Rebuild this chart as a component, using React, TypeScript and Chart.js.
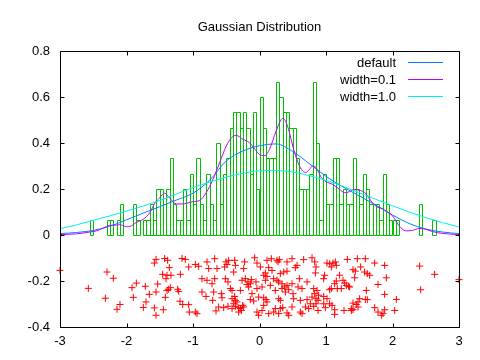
import { useEffect, useRef } from 'react';
import { Chart, registerables } from 'chart.js';

Chart.register(...registerables);

const FONT = '"Liberation Sans", Arial, sans-serif';

const titleText = 'Gaussian Distribution';
const xTickRange = [-3, 3];
const yTickRange = [-0.4, 0.8];

// histogram (bin width 0.05): bin centres and heights
const histCenters = [
  -2.525, -2.275, -2.225, -2.125, -2.075, -1.875, -1.825, -1.725, -1.675, -1.625, -1.575, -1.525,
  -1.475, -1.425, -1.375, -1.325, -1.275, -1.225, -1.175, -1.125, -1.075, -1.025, -0.975, -0.925,
  -0.875, -0.825, -0.775, -0.725, -0.675, -0.625, -0.575, -0.525, -0.475, -0.425, -0.375, -0.325,
  -0.275, -0.225, -0.175, -0.125, -0.075, -0.025,
  0.025, 0.075, 0.125, 0.175, 0.225, 0.275, 0.325, 0.375, 0.425, 0.475, 0.525, 0.575, 0.625, 0.675,
  0.725, 0.775, 0.825, 0.875, 0.925, 0.975, 1.025, 1.075, 1.125, 1.175, 1.225, 1.275, 1.325, 1.375,
  1.425, 1.475, 1.525, 1.575, 1.625, 1.675, 1.725, 1.775, 1.825, 1.875, 1.925, 1.975, 2.025, 2.075,
  2.425, 2.625,
];
const histHeights = [
  0.067, 0.067, 0.067, 0.067, 0.133, 0.133, 0.067, 0.067, 0.067, 0.133, 0.067, 0.2,
  0.2, 0.133, 0.2, 0.333, 0.133, 0.067, 0.067, 0.2, 0.067, 0.267, 0.133, 0.333,
  0.133, 0.067, 0.267, 0.133, 0.067, 0.4, 0.133, 0.267, 0.333, 0.467, 0.533, 0.533,
  0.467, 0.533, 0.467, 0.267, 0.533, 0.2,
  0.6, 0.467, 0.333, 0.333, 0.333, 0.667, 0.6, 0.533, 0.533, 0.467, 0.467, 0.333, 0.2, 0.2,
  0.2, 0.267, 0.667, 0.4, 0.067, 0.267, 0.133, 0.133, 0.333, 0.333, 0.133, 0.2, 0.133, 0.133,
  0.333, 0.2, 0.133, 0.267, 0.2, 0.133, 0.133, 0.133, 0.067, 0.267, 0.133, 0.067, 0.067, 0.067,
  0.133, 0.067,
];

// raw samples drawn below the axis: [value, vertical jitter]
const samplePoints: [number, number][] = [
  [-3.0, -0.154], [-2.574, -0.232], [-2.293, -0.161], [-2.198, -0.188], [-2.318, -0.275], [-2.098, -0.302],
  [-2.143, -0.323], [-1.917, -0.229], [-1.852, -0.209], [-1.897, -0.271], [-1.717, -0.223], [-1.657, -0.258],
  [-1.707, -0.291], [-1.747, -0.315], [-1.581, -0.317], [-1.556, -0.349], [-1.446, -0.325], [-1.531, -0.213],
  [-1.416, -0.271], [-1.581, -0.122], [-1.556, -0.106], [-1.426, -0.102], [-1.381, -0.110], [-1.356, -0.142],
  [-1.456, -0.171], [-1.391, -0.175], [-1.331, -0.175], [-1.371, -0.236], [-1.341, -0.229], [-1.391, -0.241],
  [-1.230, -0.236], [-1.215, -0.245], [-1.190, -0.171], [-1.165, -0.102], [-1.115, -0.106], [-1.065, -0.139],
  [-1.195, -0.288], [-1.155, -0.302], [-1.065, -0.303], [-1.055, -0.335], [-1.406, -0.190], [-1.556, -0.248],
  [-0.965, -0.128], [-0.789, -0.117], [-0.674, -0.103], [-0.504, -0.117], [-0.464, -0.110], [-0.373, -0.110],
  [-0.363, -0.132], [-0.223, -0.117], [-0.073, -0.099], [-0.038, -0.122], [0.113, -0.110], [0.178, -0.103],
  [0.263, -0.110], [0.298, -0.107], [0.414, -0.117], [0.489, -0.103], [0.564, -0.132], [0.664, -0.107],
  [0.790, -0.099], [0.830, -0.117], [0.850, -0.139], [1.015, -0.122], [-0.915, -0.136], [-0.639, -0.146],
  [-0.524, -0.139], [-0.238, -0.146], [0.013, -0.139], [0.138, -0.142], [0.539, -0.142], [-0.388, -0.161],
  [0.364, -0.161], [0.414, -0.157], [0.313, -0.168], [0.840, -0.165], [0.980, -0.175], [0.063, -0.175],
  [0.113, -0.180], [0.213, -0.190], [0.263, -0.197], [-0.865, -0.190], [-0.789, -0.197], [-0.674, -0.190],
  [-0.514, -0.190], [-0.474, -0.204], [-0.213, -0.190], [-0.173, -0.204], [-0.138, -0.212], [-0.263, -0.197],
  [-0.053, -0.204], [0.088, -0.197], [0.288, -0.204], [0.339, -0.212], [0.599, -0.190], [0.715, -0.204],
  [0.965, -0.190], [-0.865, -0.248], [-0.804, -0.267], [-0.689, -0.248], [-0.574, -0.255], [-0.564, -0.273],
  [-0.438, -0.233], [-0.413, -0.241], [-0.373, -0.267], [-0.288, -0.241], [-0.163, -0.226], [-0.038, -0.233],
  [0.038, -0.226], [0.163, -0.219], [0.238, -0.241], [0.339, -0.233], [0.389, -0.248], [0.439, -0.238],
  [0.504, -0.255], [0.579, -0.226], [0.815, -0.233], [0.865, -0.241], [0.790, -0.270], [0.850, -0.277],
  [0.890, -0.262], [0.965, -0.267], [1.015, -0.277], [-0.704, -0.284], [-0.413, -0.277], [-0.363, -0.284],
  [-0.138, -0.281], [-0.088, -0.287], [0.063, -0.273], [0.098, -0.281], [0.288, -0.277], [0.313, -0.284],
  [0.514, -0.277], [0.614, -0.284], [0.715, -0.281], [0.850, -0.299], [0.113, -0.291], [-0.965, -0.335],
  [-0.940, -0.342], [-0.654, -0.330], [-0.614, -0.313], [-0.539, -0.316], [-0.474, -0.310], [-0.413, -0.320],
  [-0.363, -0.310], [-0.313, -0.316], [-0.273, -0.328], [-0.238, -0.313], [-0.313, -0.335], [-0.038, -0.335],
  [-0.013, -0.349], [0.063, -0.306], [0.238, -0.320], [0.213, -0.335], [0.313, -0.320], [0.414, -0.339],
  [0.439, -0.349], [0.489, -0.313], [0.614, -0.335], [0.639, -0.342], [0.740, -0.320], [0.880, -0.328],
  [0.815, -0.310], [0.965, -0.299], [0.990, -0.316], [0.349, -0.316], [-0.188, -0.215], [-0.123, -0.194],
  [0.379, -0.226], [0.414, -0.219], [-0.388, -0.299], [-0.338, -0.291], [-0.288, -0.320], [-0.253, -0.306],
  [0.830, -0.255], [0.880, -0.284], [-0.489, -0.128], [0.279, -0.117], [0.088, -0.165], [0.188, -0.154],
  [0.489, -0.212], [-0.764, -0.146], [-0.714, -0.212], [0.639, -0.233], [0.038, -0.328], [0.138, -0.342],
  [0.288, -0.342], [-0.113, -0.255], [-0.013, -0.270], [0.690, -0.313], [0.765, -0.299],
  [1.055, -0.125], [1.105, -0.122], [1.140, -0.117], [1.155, -0.132], [1.321, -0.106], [1.471, -0.103],
  [1.591, -0.103], [1.732, -0.122], [1.882, -0.132], [1.406, -0.151], [1.441, -0.157], [1.521, -0.139],
  [1.581, -0.161], [1.621, -0.168], [1.657, -0.175], [1.205, -0.175], [1.431, -0.186], [1.155, -0.200],
  [1.256, -0.197], [1.281, -0.209], [1.306, -0.219], [1.341, -0.223], [1.782, -0.215], [1.907, -0.186],
  [1.055, -0.238], [1.080, -0.233], [1.170, -0.233], [1.606, -0.241], [1.882, -0.258], [1.506, -0.277],
  [1.591, -0.280], [1.621, -0.281], [2.058, -0.280], [1.055, -0.299], [1.090, -0.306], [1.406, -0.296],
  [1.456, -0.302], [1.481, -0.313], [1.130, -0.325], [1.271, -0.328], [1.381, -0.328], [1.406, -0.325],
  [1.732, -0.316], [1.782, -0.335], [1.857, -0.342], [1.882, -0.325], [2.033, -0.328], [1.130, -0.345],
  [1.832, -0.349], [2.408, -0.135], [2.634, -0.171], [2.423, -0.238], [3.0, -0.194], [1.080, -0.139],
  [1.130, -0.212], [1.356, -0.226], [1.230, -0.233], [1.481, -0.291], [1.381, -0.320],
];

// kernel density estimates: [x, density]
const kdeDefault: [number, number][] = [
  [-3, 0.006], [-2.75, 0.011], [-2.5, 0.02], [-2.25, 0.038], [-2, 0.066], [-1.75, 0.095], [-1.5, 0.123],
  [-1.25, 0.152], [-1, 0.182], [-0.75, 0.238], [-0.5, 0.322], [-0.25, 0.365], [0, 0.388], [0.25, 0.396],
  [0.5, 0.363], [0.75, 0.31], [1, 0.255], [1.25, 0.21], [1.5, 0.17], [1.75, 0.13], [2, 0.087],
  [2.25, 0.05], [2.5, 0.026], [2.75, 0.013], [3, 0.006],
];
const kdeNarrow: [number, number][] = [
  [-3, 0.002], [-2.75, 0.005], [-2.55, 0.013], [-2.45, 0.018], [-2.35, 0.03], [-2.25, 0.042], [-2.15, 0.043],
  [-2.1, 0.045], [-2.0, 0.036], [-1.95, 0.037], [-1.85, 0.055], [-1.75, 0.068], [-1.65, 0.097],
  [-1.57, 0.14], [-1.5, 0.162], [-1.43, 0.182], [-1.35, 0.16], [-1.25, 0.135], [-1.15, 0.135],
  [-1.05, 0.142], [-1.0, 0.145], [-0.9, 0.15], [-0.8, 0.185], [-0.7, 0.242], [-0.6, 0.314], [-0.5, 0.387],
  [-0.42, 0.423], [-0.35, 0.433], [-0.25, 0.416], [-0.15, 0.401], [-0.07, 0.373], [0.0, 0.35],
  [0.08, 0.345], [0.15, 0.372], [0.25, 0.452], [0.35, 0.507], [0.4, 0.49], [0.45, 0.445], [0.5, 0.387],
  [0.58, 0.314], [0.65, 0.278], [0.7, 0.272], [0.75, 0.285], [0.8, 0.3], [0.85, 0.293], [0.93, 0.25],
  [1.0, 0.232], [1.1, 0.22], [1.2, 0.199], [1.28, 0.184], [1.35, 0.188], [1.42, 0.198], [1.5, 0.195],
  [1.58, 0.185], [1.7, 0.14], [1.78, 0.12], [1.85, 0.115], [1.9, 0.104], [2.0, 0.083], [2.1, 0.04],
  [2.2, 0.018], [2.3, 0.02], [2.4, 0.028], [2.5, 0.025], [2.6, 0.015], [2.75, 0.007], [3.0, 0.002],
];
const kdeWide: [number, number][] = [
  [-3, 0.027], [-2.75, 0.044], [-2.5, 0.064], [-2.25, 0.083], [-2, 0.104], [-1.75, 0.126], [-1.5, 0.15],
  [-1.25, 0.178], [-1, 0.206], [-0.75, 0.23], [-0.5, 0.252], [-0.25, 0.268], [0, 0.279], [0.25, 0.28],
  [0.5, 0.274], [0.75, 0.258], [1, 0.237], [1.25, 0.212], [1.5, 0.184], [1.75, 0.155], [2, 0.127],
  [2.25, 0.1], [2.5, 0.076], [2.75, 0.054], [3, 0.035],
];

const seriesLabels = ['default', 'width=0.1', 'width=1.0'];
const seriesColors = ['#0080ff', '#c000ff', '#00eeee'];
const histColor = '#00c000';
const sampleColor = '#ff0000';

const toXY = (pts: [number, number][]) => pts.map(([x, y]) => ({ x, y }));

const histPlugin = {
  id: 'histBoxes',
  afterDatasetDraw(chart: any, args: any) {
    if (args.meta.type !== 'bar') return;
    const ctx = chart.ctx;
    ctx.save();
    ctx.strokeStyle = histColor;
    ctx.lineWidth = 1;
    ctx.beginPath();
    for (const el of args.meta.data) {
      const l = Math.round(el.x - el.width / 2);
      const r = Math.round(el.x + el.width / 2);
      const t = Math.round(el.y);
      const b = Math.round(el.base);
      ctx.rect(l + 0.5, t + 0.5, r - l, b - t);
    }
    ctx.stroke();
    ctx.restore();
  },
};

const framePlugin = {
  id: 'frame',
  afterDatasetsDraw(chart: any) {
    const { ctx, chartArea: a, scales } = chart;
    const L = Math.round(a.left) + 0.5;
    const R = Math.round(a.right) + 0.5;
    const T = Math.round(a.top) + 0.5;
    const B = Math.round(a.bottom) + 0.5;
    const len = 4;
    ctx.save();
    ctx.strokeStyle = '#000';
    ctx.lineWidth = 1;
    ctx.beginPath();
    ctx.rect(L, T, R - L, B - T);
    for (const t of scales.x.ticks) {
      const px = Math.round(scales.x.getPixelForValue(t.value)) + 0.5;
      ctx.moveTo(px, B); ctx.lineTo(px, B - len);
      ctx.moveTo(px, T); ctx.lineTo(px, T + len);
    }
    for (const t of scales.y.ticks) {
      const py = Math.round(scales.y.getPixelForValue(t.value)) + 0.5;
      ctx.moveTo(L, py); ctx.lineTo(L + len, py);
      ctx.moveTo(R, py); ctx.lineTo(R - len, py);
    }
    ctx.stroke();
    ctx.restore();
  },
};

const keyPlugin = {
  id: 'key',
  afterDraw(chart: any) {
    const { ctx, chartArea: a } = chart;
    const lineEnd = Math.round(a.right) - 16;
    const lineStart = lineEnd - 35;
    const textRight = lineStart - 12;
    ctx.save();
    ctx.font = `13px ${FONT}`;
    ctx.textAlign = 'right';
    ctx.textBaseline = 'alphabetic';
    ctx.lineWidth = 1;
    seriesLabels.forEach((label, i) => {
      const rowY = Math.round(a.top) + 11 + i * 17;
      ctx.fillStyle = '#000';
      ctx.fillText(label, textRight, rowY + 4.5);
      ctx.strokeStyle = seriesColors[i];
      ctx.beginPath();
      ctx.moveTo(lineStart, rowY + 0.5);
      ctx.lineTo(lineEnd, rowY + 0.5);
      ctx.stroke();
    });
    ctx.restore();
  },
};

const fmtTick = (v: any) => String(Number(Number(v).toFixed(2)));

export default function App() {
  const ref = useRef<HTMLCanvasElement>(null);
  useEffect(() => {
    if (!ref.current) return;
    const lineDs = (pts: [number, number][], i: number, order: number) => ({
      type: 'line' as const,
      label: seriesLabels[i],
      data: toXY(pts),
      borderColor: seriesColors[i],
      backgroundColor: seriesColors[i],
      borderWidth: 1,
      pointRadius: 0,
      fill: false,
      cubicInterpolationMode: 'monotone' as const,
      clip: false as any,
      order,
    });
    const chart = new Chart(ref.current, {
      type: 'line',
      data: {
        datasets: [
          {
            type: 'bar',
            label: 'histogram',
            data: histCenters.map((c, i) => ({ x: c, y: histHeights[i] })) as any,
            backgroundColor: 'rgba(0,0,0,0)',
            borderWidth: 0,
            barPercentage: 1,
            categoryPercentage: 1,
            order: 5,
          } as any,
          {
            type: 'scatter',
            label: 'samples',
            data: toXY(samplePoints),
            pointStyle: 'cross',
            pointRadius: 3.5,
            borderColor: sampleColor,
            backgroundColor: sampleColor,
            borderWidth: 1,
            showLine: false,
            clip: false as any,
            order: 4,
          } as any,
          lineDs(kdeDefault, 0, 3),
          lineDs(kdeNarrow, 1, 2),
          lineDs(kdeWide, 2, 1),
        ],
      },
      options: {
        responsive: false,
        animation: false,
        events: [],
        layout: { padding: { left: 0, right: 21, top: 0, bottom: 0 } },
        plugins: {
          legend: { display: false },
          tooltip: { enabled: false },
          title: {
            display: true,
            fullSize: false,
            text: titleText,
            color: '#000',
            font: { family: FONT, size: 13, weight: 'normal', lineHeight: 1.2 },
            padding: { top: 20, bottom: 15.4 },
          },
        },
        scales: {
          x: {
            type: 'linear',
            min: xTickRange[0],
            max: xTickRange[1],
            offset: false,
            grid: { display: false, drawTicks: false },
            border: { display: false },
            ticks: {
              stepSize: 1,
              autoSkip: false,
              maxRotation: 0,
              padding: 7,
              color: '#000',
              font: { family: FONT, size: 13 },
              callback: fmtTick,
            },
            afterFit: (s: any) => { s.height = 33; },
          },
          y: {
            type: 'linear',
            min: yTickRange[0],
            max: yTickRange[1],
            grid: { display: false, drawTicks: false },
            border: { display: false },
            ticks: {
              stepSize: 0.2,
              padding: 10,
              color: '#000',
              font: { family: FONT, size: 13 },
              callback: fmtTick,
            },
            afterFit: (s: any) => { s.width = 60; },
          },
        },
      },
      plugins: [histPlugin, framePlugin, keyPlugin],
    });
    return () => chart.destroy();
  }, []);
  return (
    <div style={{ position: 'absolute', left: 0, top: 0, width: 480, height: 360, background: '#fff' }}>
      <canvas ref={ref} width={480} height={360} style={{ display: 'block', width: 480, height: 360 }} />
    </div>
  );
}
